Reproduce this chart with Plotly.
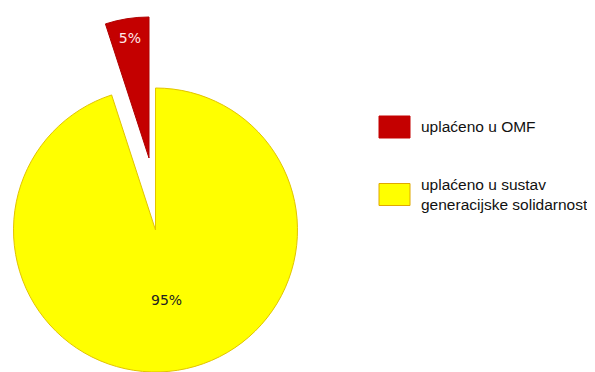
import plotly.graph_objects as go

# data
LABELS = ["uplaćeno u sustav<br>generacijske solidarnosti", "uplaćeno u OMF"]
VALUES = [95, 5]
PCT_TEXT = ["95%", "5%"]

YEL = "#ffff00"; YEL_LINE = "#e2c400"
RED = "#c40000"; RED_LINE = "#b00000"
CLEAR = "rgba(0,0,0,0)"
# page body has an 8px margin, so the figure is a bit smaller than the window
OFF = 8
W, H = 595 - OFF, 372 - OFF

def px(x):  # window x -> paper x
    return (x - OFF) / W

def py(y):  # window y -> paper y
    return 1 - (y - OFF) / H

fig = go.Figure()

# main (yellow) slice — the red part left transparent, drawn separately pulled out
fig.add_trace(go.Pie(
    values=VALUES, labels=LABELS, sort=False, direction="clockwise", rotation=0,
    marker=dict(colors=[YEL, CLEAR], line=dict(color=[YEL_LINE, CLEAR], width=1)),
    text=[PCT_TEXT[0], ""], textinfo="text", textposition="inside",
    insidetextorientation="horizontal",
    textfont=dict(family="DejaVu Sans", size=14, color="#222222"),
    domain=dict(x=[px(13), px(298)], y=[max(0, py(373)), py(88)]),
    showlegend=False, hoverinfo="label+percent",
))

# pulled (red) slice
fig.add_trace(go.Pie(
    values=VALUES, labels=LABELS, sort=False, direction="clockwise", rotation=0,
    marker=dict(colors=[CLEAR, RED], line=dict(color=[CLEAR, RED_LINE], width=1)),
    text=["", PCT_TEXT[1]], textinfo="text", textposition="inside",
    insidetextorientation="horizontal",
    textfont=dict(family="DejaVu Sans", size=14, color="#ffe8e8"),
    domain=dict(x=[px(8), px(290)], y=[py(301), py(15)]),
    showlegend=False, hoverinfo="label+percent",
))

# custom legend (big swatches)
leg = [(LABELS[1], RED, RED, 127), (LABELS[0], YEL, "#e0a800", 194.5)]
shapes, annos = [], []
for lab, col, lc, yc in leg:
    shapes.append(dict(type="rect", xref="paper", yref="paper",
                       x0=px(379), x1=px(410), y0=py(yc + 11), y1=py(yc - 11),
                       fillcolor=col, line=dict(color=lc, width=1)))
    annos.append(dict(text=lab, xref="paper", yref="paper", x=px(419), y=py(yc),
                      xanchor="left", yanchor="middle", align="left", showarrow=False,
                      font=dict(family="Liberation Sans", size=15.5, color="#111111")))

fig.update_layout(
    width=W, height=H, margin=dict(l=0, r=0, t=0, b=0),
    paper_bgcolor="white", plot_bgcolor="white",
    shapes=shapes, annotations=annos,
)

fig.write_html("out.html")
